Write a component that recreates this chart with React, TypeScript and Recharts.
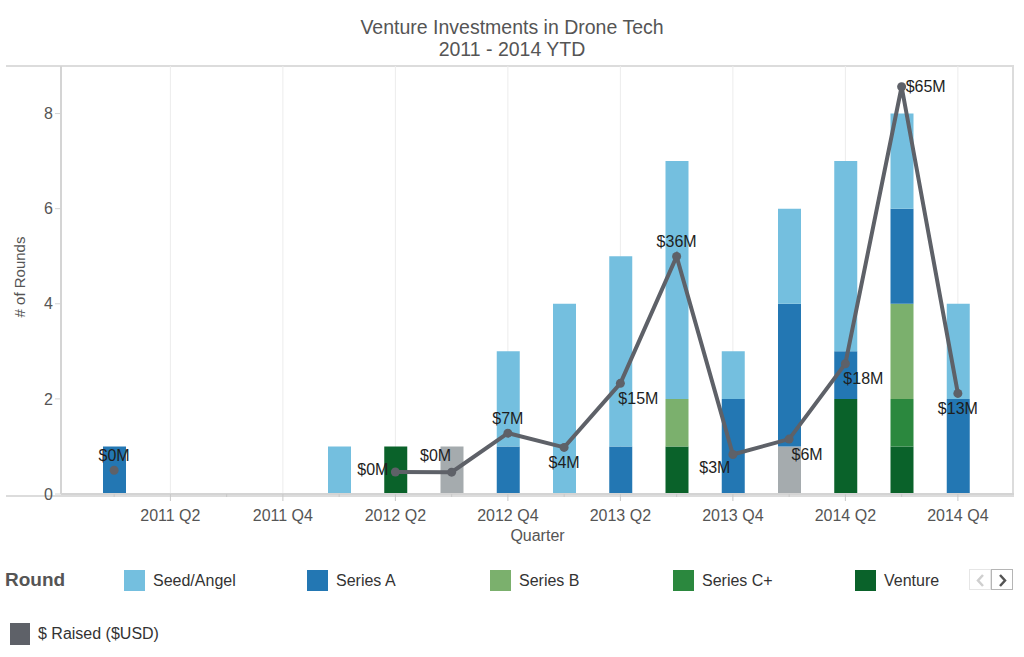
import { ComposedChart, Bar, Line, XAxis, YAxis, CartesianGrid, LabelList, Label } from 'recharts';

const quarters = [
  '2011 Q1', '2011 Q2', '2011 Q3', '2011 Q4',
  '2012 Q1', '2012 Q2', '2012 Q3', '2012 Q4',
  '2013 Q1', '2013 Q2', '2013 Q3', '2013 Q4',
  '2014 Q1', '2014 Q2', '2014 Q3', '2014 Q4',
];
const labeledQuarters = ['2011 Q2', '2011 Q4', '2012 Q2', '2012 Q4', '2013 Q2', '2013 Q4', '2014 Q2', '2014 Q4'];

// # of rounds per quarter
const otherRounds = [0, 0, 0, 0, 0, 0, 1, 0, 0, 0, 0, 0, 1, 0, 0, 0];
const ventureRounds = [0, 0, 0, 0, 0, 1, 0, 0, 0, 0, 1, 0, 0, 2, 1, 0];
const seriesCRounds = [0, 0, 0, 0, 0, 0, 0, 0, 0, 0, 0, 0, 0, 0, 1, 0];
const seriesBRounds = [0, 0, 0, 0, 0, 0, 0, 0, 0, 0, 1, 0, 0, 0, 2, 0];
const seriesARounds = [1, 0, 0, 0, 0, 0, 0, 1, 0, 1, 0, 2, 3, 1, 2, 2];
const seedRounds = [0, 0, 0, 0, 1, 0, 0, 2, 4, 4, 5, 1, 2, 4, 2, 2];

// $ raised, millions USD
const raisedM = [0.35, null, null, null, null, 0.05, 0.02, 6.6, 4.2, 15.0, 36.4, 3.0, 5.6, 18.3, 65.0, 13.3];

// where each $ label sits relative to its point
const labelPlacement = [
  'top', '', '', '', '', 'left', 'topLeft', 'top',
  'bottom', 'bottomRight', 'top', 'bottomLeft', 'bottomRight', 'bottomRight', 'right', 'bottom',
];

const COLORS = {
  seed: '#74bfdf',
  seriesA: '#2377b3',
  seriesB: '#7bb06d',
  seriesC: '#2b883e',
  venture: '#0a622a',
  other: '#a5abae',
  raised: '#5e6168',
};

const chartData = quarters.map((q, i) => ({
  q,
  other: otherRounds[i],
  venture: ventureRounds[i],
  seriesC: seriesCRounds[i],
  seriesB: seriesBRounds[i],
  seriesA: seriesARounds[i],
  seed: seedRounds[i],
  raised: raisedM[i],
}));

const FONT = '"Liberation Sans", Arial, sans-serif';

// band scale in recharts 3 is wrapped; map() gives the band start
function bandCenter(s: any, q: string): number | null {
  if (!s) return null;
  const bw = typeof s.bandwidth === 'function' ? s.bandwidth() : 0;
  let v: any = null;
  if (typeof s === 'function') v = s(q);
  else if (typeof s.map === 'function') v = s.map(q);
  if (typeof v !== 'number' || Number.isNaN(v)) return null;
  return v + bw / 2;
}

function QuarterTick(props: any) {
  const { x, y, payload } = props;
  const labeled = labeledQuarters.includes(payload.value);
  return (
    <g>
      <line x1={x} x2={x} y1={y} y2={y + (labeled ? 7 : 3)} stroke="#c8c8c8" />
      {labeled && (
        <text x={x} y={y + 27} textAnchor="middle" fontSize={16} fill="#555" fontFamily={FONT}>
          {payload.value}
        </text>
      )}
    </g>
  );
}

function RaisedLabel(props: any) {
  const { x, y, value, index } = props;
  if (value == null) return null;
  const place = labelPlacement[index];
  let dx = 0;
  let dy = 0;
  let anchor = 'middle';
  if (place === 'top') dy = -15;
  if (place === 'bottom') dy = 15;
  if (place === 'left') { dx = -7; dy = -2; anchor = 'end'; }
  if (place === 'right') { dx = 4; anchor = 'start'; }
  if (place === 'topLeft') { dx = -16; dy = -17; }
  if (place === 'bottomRight') { dx = 18; dy = 15; }
  if (place === 'bottomLeft') { dx = -18; dy = 13; }
  return (
    <text
      x={x + dx}
      y={y + dy}
      textAnchor={anchor}
      dominantBaseline="central"
      fontSize={16}
      fill="#1e1e1e"
      fontFamily={FONT}
    >
      {`$${Math.round(value)}M`}
    </text>
  );
}

const legendItems = [
  { name: 'Seed/Angel', color: COLORS.seed, left: 124 },
  { name: 'Series A', color: COLORS.seriesA, left: 307 },
  { name: 'Series B', color: COLORS.seriesB, left: 490 },
  { name: 'Series C+', color: COLORS.seriesC, left: 673 },
  { name: 'Venture', color: COLORS.venture, left: 855 },
];

export default function App() {
  return (
    <div style={{ position: 'absolute', left: 0, top: 0, width: 1024, height: 657, background: '#fff', fontFamily: FONT, overflow: 'hidden' }}>
      <div style={{ position: 'absolute', left: 0, width: 1024, top: 16, textAlign: 'center', fontSize: 19.5, lineHeight: '22px', color: '#555' }}>
        Venture Investments in Drone Tech
        <br />
        2011 - 2014 YTD
      </div>

      {/* frame around the plot */}
      <div style={{ position: 'absolute', left: 6, top: 65, width: 1006, height: 428, borderTop: '2px solid #dcdcdc', borderRight: '2px solid #dcdcdc', borderBottom: '2px solid #dcdcdc' }} />

      <div style={{ position: 'absolute', left: 0, top: 0 }}>
        <ComposedChart
          width={1024}
          height={560}
          data={chartData}
          margin={{ top: 66, right: 10, bottom: 20, left: 6 }}
          barSize={23}
        >
          <CartesianGrid
            stroke="#ececec"
            horizontalValues={[2, 4, 6, 8]}
            verticalCoordinatesGenerator={({ xAxis }: any) =>
              labeledQuarters.map((q) => bandCenter(xAxis?.scale, q)).filter((v) => v != null) as number[]
            }
          />
          <XAxis
            dataKey="q"
            interval={0}
            padding={{ left: 25, right: 28 }}
            height={46}
            tickLine={false}
            tickSize={0}
            tickMargin={0}
            axisLine={{ stroke: '#d4d4d4', strokeWidth: 2 }}
            tick={<QuarterTick />}
          >
            <Label value="Quarter" position="insideBottom" offset={-1} fontSize={16} fill="#555" fontFamily={FONT} />
          </XAxis>
          <YAxis
            yAxisId="rounds"
            width={55}
            domain={[0, 9]}
            ticks={[0, 2, 4, 6, 8]}
            tick={{ fontSize: 16, fill: '#555', fontFamily: FONT }}
            tickLine={{ stroke: '#d4d4d4' }}
            tickSize={6}
            axisLine={{ stroke: '#d4d4d4', strokeWidth: 2 }}
          >
            <Label value="# of Rounds" angle={-90} position="insideLeft" offset={14} dy={-3} fontSize={15} fill="#555" fontFamily={FONT} style={{ textAnchor: 'middle' }} />
          </YAxis>
          <YAxis yAxisId="raised" orientation="right" hide domain={[-3.66, 68.5]} allowDataOverflow />

          <Bar yAxisId="rounds" dataKey="other" stackId="r" fill={COLORS.other} isAnimationActive={false} />
          <Bar yAxisId="rounds" dataKey="venture" stackId="r" fill={COLORS.venture} isAnimationActive={false} />
          <Bar yAxisId="rounds" dataKey="seriesC" stackId="r" fill={COLORS.seriesC} isAnimationActive={false} />
          <Bar yAxisId="rounds" dataKey="seriesB" stackId="r" fill={COLORS.seriesB} isAnimationActive={false} />
          <Bar yAxisId="rounds" dataKey="seriesA" stackId="r" fill={COLORS.seriesA} isAnimationActive={false} />
          <Bar yAxisId="rounds" dataKey="seed" stackId="r" fill={COLORS.seed} isAnimationActive={false} />

          <Line
            yAxisId="raised"
            dataKey="raised"
            stroke={COLORS.raised}
            strokeWidth={4}
            dot={{ r: 4.5, fill: COLORS.raised, stroke: 'none' }}
            activeDot={false}
            isAnimationActive={false}
          >
            <LabelList dataKey="raised" content={<RaisedLabel />} />
          </Line>
        </ComposedChart>
      </div>

      {/* legend */}
      <div style={{ position: 'absolute', left: 5, top: 569, fontSize: 19, fontWeight: 'bold', color: '#555', lineHeight: '22px' }}>Round</div>
      {legendItems.map((it) => (
        <div key={it.name} style={{ position: 'absolute', left: it.left, top: 570, display: 'flex', alignItems: 'center', height: 21 }}>
          <div style={{ width: 21, height: 21, background: it.color }} />
          <span style={{ marginLeft: 8, fontSize: 16, color: '#333' }}>{it.name}</span>
        </div>
      ))}
      <div style={{ position: 'absolute', left: 969, top: 569, width: 44, height: 21, display: 'flex' }}>
        <svg width={22} height={21} style={{ border: '1px solid #e6e6e6', boxSizing: 'border-box' }}>
          <polyline points="13,5 8,10.5 13,16" fill="none" stroke="#cfcfcf" strokeWidth={2.5} />
        </svg>
        <svg width={22} height={21} style={{ border: '1px solid #b5b5b5', boxSizing: 'border-box' }}>
          <polyline points="8,5 13,10.5 8,16" fill="none" stroke="#555" strokeWidth={2.5} />
        </svg>
      </div>
      <div style={{ position: 'absolute', left: 10, top: 623, display: 'flex', alignItems: 'center', height: 22 }}>
        <div style={{ width: 20, height: 22, background: COLORS.raised }} />
        <span style={{ marginLeft: 8, fontSize: 16, color: '#333' }}>$ Raised ($USD)</span>
      </div>
    </div>
  );
}
